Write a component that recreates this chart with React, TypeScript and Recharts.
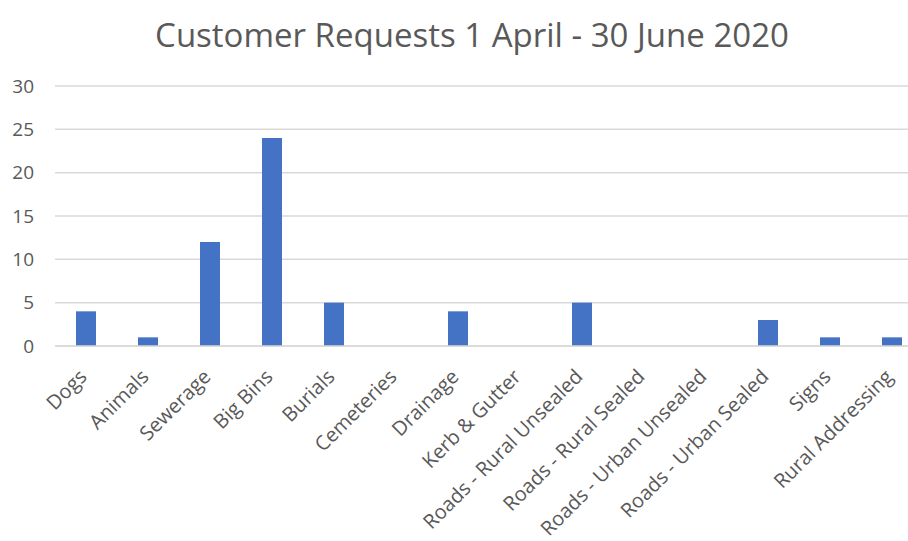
import React from "react";
import { BarChart, Bar, XAxis, YAxis, CartesianGrid } from "recharts";

const categories: string[] = [
  "Dogs",
  "Animals",
  "Sewerage",
  "Big Bins",
  "Burials",
  "Cemeteries",
  "Drainage",
  "Kerb & Gutter",
  "Roads - Rural Unsealed",
  "Roads - Rural Sealed",
  "Roads - Urban Unsealed",
  "Roads - Urban Sealed",
  "Signs",
  "Rural Addressing",
];

const requests: number[] = [4, 1, 12, 24, 5, 0, 4, 0, 5, 0, 0, 3, 1, 1];

const yTicks: number[] = [0, 5, 10, 15, 20, 25, 30];

const data = categories.map((name, i) => ({ name, count: requests[i] }));

const FONT = "Open Sans, 'Liberation Sans', sans-serif";

const AngledTick = (props: any) => {
  const { x, y, payload } = props;
  return (
    <g transform={`translate(${x - 3},${y + 19})`}>
      <text
        x={0}
        y={0}
        dy="0.35em"
        textAnchor="end"
        transform="rotate(-45)"
        fill="#595959"
        fontSize={20}
        fontFamily={FONT}
      >
        {payload.value}
      </text>
    </g>
  );
};

const App: React.FC = () => {
  return (
    <div
      style={{
        position: "fixed",
        left: 0,
        top: 0,
        width: 908,
        height: 541,
        overflow: "hidden",
        background: "#fff",
      }}
    >
      <div
        style={{
          position: "absolute",
          left: 0,
          top: 12,
          width: 944,
          textAlign: "center",
          fontFamily: FONT,
          fontSize: 33,
          color: "#595959",
        }}
      >
        Customer Requests 1 April - 30 June 2020
      </div>
      <BarChart
        width={930}
        height={541}
        data={data}
        margin={{ top: 86, right: 7, left: 0, bottom: 0 }}
        barSize={20}
      >
        <CartesianGrid vertical={false} stroke="#d9d9d9" strokeWidth={1.5} />
        <XAxis
          dataKey="name"
          interval={0}
          height={195}
          tick={<AngledTick />}
          tickLine={false}
          axisLine={{ stroke: "#d9d9d9", strokeWidth: 1.5 }}
        />
        <YAxis
          width={55}
          domain={[0, 30]}
          ticks={yTicks}
          tickLine={false}
          axisLine={false}
          tickSize={0}
          tickMargin={21}
          tick={{ fill: "#595959", fontSize: 19, fontFamily: FONT }}
        />
        <Bar dataKey="count" fill="#4472c4" isAnimationActive={false} />
      </BarChart>
    </div>
  );
};

export default App;
